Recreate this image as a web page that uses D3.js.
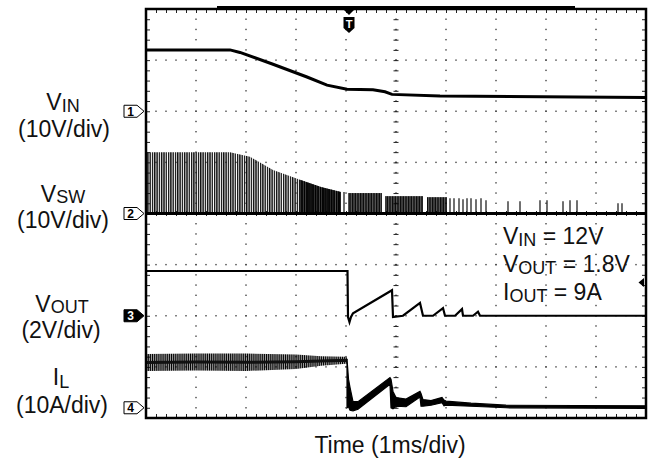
<!DOCTYPE html>
<html><head><meta charset="utf-8">
<script src="https://cdn.jsdelivr.net/npm/d3@7"></script>
<style>
body{margin:0;background:#fff}
svg{display:block}
text{font-family:"Liberation Sans",Arial,Helvetica,sans-serif;fill:#111}
</style>
</head><body>
<svg id="c" width="650" height="464"></svg>
<script>
// ---------------- DATA (read from the scope shot; time in ms, 1 ms/div) ----------------
// Channel 1: VIN (volts)
const vinTime  = [0, 1.68, 1.88, 2.54, 3.22, 3.62, 4.02, 4.54, 4.78, 4.92, 5.88, 10];
const vinVolts = [12, 12, 11.5, 9.2, 6.7, 5.1, 4.3, 4.2, 3.8, 3.3, 3.0, 2.7];

// Channel 2: VSW switching envelope (volts)
const vswEnvTime = [0, 1.68, 2.08, 2.54, 3.08, 3.5, 3.9];
const vswEnvTop  = [12, 12, 11.1, 8.5, 6.6, 5.2, 4.2];
const vswBurstStart = [4.04, 4.78, 5.62];
const vswBurstEnd   = [4.72, 5.54, 6.02];
const vswBurstTop   = [4.0, 3.4, 3.2];
const vswSpikeTime = [3.96, 6.08, 6.16, 6.26, 6.34, 6.42, 6.5, 6.6, 6.7, 6.8, 7.24, 7.48, 7.88, 8.02, 8.34, 8.48, 8.62, 9.44, 9.52];
const vswSpikeTop  = [4.2, 3.0, 3.0, 3.0, 2.8, 3.0, 3.0, 2.8, 3.0, 2.6, 2.4, 2.4, 2.6, 2.6, 2.4, 2.6, 2.6, 2.0, 2.0];

// Channel 3: VOUT (volts)
const voutTime  = [0, 4.03, 4.04, 4.07, 4.1, 4.14, 4.92, 4.94, 5.14, 5.48, 5.54, 5.74, 5.94, 5.98, 6.18, 6.32, 6.34, 6.54, 6.64, 6.68, 10];
const voutVolts = [1.75, 1.75, -0.05, -0.25, -0.05, 0.1, 1.0, -0.05, 0.0, 0.5, 0.0, 0.0, 0.3, 0.0, 0.0, 0.26, 0.0, 0.0, 0.16, 0.0, 0.0];

// Channel 4: IL (amps) — ripple band before fault, then hiccup current
const ilPreTime = [0, 1.0, 2.0, 3.0, 3.5, 4.0, 4.02];
const ilPreHi   = [10.5, 10.6, 10.6, 10.4, 10.1, 10.0, 9.8];
const ilPreLo   = [7.2, 7.3, 7.2, 7.6, 8.2, 8.6, 8.6];
const ilPostTime = [4.02, 4.05, 4.08, 4.14, 4.24, 4.88, 4.9, 4.94, 5.0, 5.2, 5.48, 5.5, 5.54, 5.7, 5.92, 5.96, 6.0, 6.5, 7.2, 10];
const ilPostHi   = [9.6, 5.6, 4.0, 1.2, 1.2, 5.9, 5.6, 3.2, 2.0, 1.7, 3.2, 2.8, 1.6, 1.4, 2.0, 1.5, 1.3, 0.9, 0.5, 0.4];
const ilPostLo   = [0.0, 0.2, -0.5, -0.6, -0.3, 4.6, 0.0, -0.2, 0.3, 0.2, 2.1, 0.3, 0.3, 0.5, 1.0, 0.4, 0.5, 0.3, 0.0, -0.1];

// Channel settings
const chGroundDiv = [2, 0, -2, -3.8];
const chPerDiv    = [10, 10, 2, 10];
const chMarkerLabels = ["1", "2", "3", "4"];
const trigTime = 4.06;

// ---------------- LAYOUT ----------------
const svg = d3.select("#c");
const L = 146, R = 646, T = 9, B = 418;
const x = d3.scaleLinear().domain([0, 10]).range([L, R]);
const y = d3.scaleLinear().domain([-4, 4]).range([B, T]);
const yc = (ch, v) => y(chGroundDiv[ch] + v / chPerDiv[ch]);

svg.append("rect").attr("width", 650).attr("height", 464).attr("fill", "#fff");

const defs = svg.append("defs");
function stripes(id, w, lw, col) {
  const p = defs.append("pattern").attr("id", id).attr("patternUnits", "userSpaceOnUse")
    .attr("width", w).attr("height", 10);
  p.append("rect").attr("width", lw).attr("height", 10).attr("fill", col);
}
stripes("light", 2.3, 1.4, "#111");
stripes("dark", 1.6, 1.3, "#000");
stripes("ripple", 1.9, 1.3, "#000");

// ---------------- GRID ----------------
const grid = svg.append("g");
const minorX = d3.range(0, 50.001, 1).map(i => i * 0.2);
const minorY = d3.range(0, 40.001, 1).map(i => -4 + i * 0.2);
[1,2,3,4,6,7,8,9].forEach(t => {
  minorY.forEach(v => grid.append("rect").attr("x", x(t) - 0.7).attr("y", y(v) - 0.7)
    .attr("width", 1.4).attr("height", 1.4).attr("fill", "#444"));
});
[-3,-2,-1,1,2,3].forEach(v => {
  minorX.forEach(t => grid.append("rect").attr("x", x(t) - 0.7).attr("y", y(v) - 0.7)
    .attr("width", 1.4).attr("height", 1.4).attr("fill", "#444"));
});
function cleanAxis(g) { g.select(".domain").remove(); g.selectAll("line").attr("stroke", "#222").attr("stroke-width", 1); }
const ticksX = minorX.slice(1, -1), ticksY = minorY.slice(1, -1);
svg.append("g").attr("transform", `translate(0,${y(0)})`).call(d3.axisTop(x).tickValues(ticksX).tickSize(2.5).tickFormat("")).call(cleanAxis);
svg.append("g").attr("transform", `translate(0,${y(0)})`).call(d3.axisBottom(x).tickValues(ticksX).tickSize(2.5).tickFormat("")).call(cleanAxis);
svg.append("g").attr("transform", `translate(${x(5)},0)`).call(d3.axisLeft(y).tickValues(ticksY).tickSize(2.5).tickFormat("")).call(cleanAxis);
svg.append("g").attr("transform", `translate(${x(5)},0)`).call(d3.axisRight(y).tickValues(ticksY).tickSize(2.5).tickFormat("")).call(cleanAxis);
minorX.forEach(t => grid.append("rect").attr("x", x(t) - 0.7).attr("y", y(0) - 0.7).attr("width", 1.4).attr("height", 1.4).attr("fill", "#333"));
minorY.forEach(v => grid.append("rect").attr("x", x(5) - 0.7).attr("y", y(v) - 0.7).attr("width", 1.4).attr("height", 1.4).attr("fill", "#333"));
svg.append("g").attr("transform", `translate(0,${T})`).call(d3.axisBottom(x).tickValues(ticksX).tickSize(4).tickFormat("")).call(cleanAxis);
svg.append("g").attr("transform", `translate(0,${B})`).call(d3.axisTop(x).tickValues(ticksX).tickSize(4).tickFormat("")).call(cleanAxis);
svg.append("g").attr("transform", `translate(${L},0)`).call(d3.axisRight(y).tickValues(ticksY).tickSize(4).tickFormat("")).call(cleanAxis);
svg.append("g").attr("transform", `translate(${R},0)`).call(d3.axisLeft(y).tickValues(ticksY).tickSize(4).tickFormat("")).call(cleanAxis);

// ---------------- TRACES ----------------
const tr = svg.append("g");
// CH2 VSW
const envPts = vswEnvTime.map((t, i) => [t, vswEnvTop[i]]);
const vswArea = d3.area().x(d => x(d[0])).y0(yc(1, 0)).y1(d => yc(1, d[1]));
tr.append("path").attr("d", vswArea(envPts)).attr("fill", "url(#light)");
tr.append("path").attr("d", vswArea(envPts.filter(d => d[0] >= 3.08))).attr("fill", "url(#dark)");
vswBurstStart.forEach((s, i) => {
  tr.append("rect").attr("x", x(s)).attr("width", x(vswBurstEnd[i]) - x(s))
    .attr("y", yc(1, vswBurstTop[i])).attr("height", yc(1, 0) - yc(1, vswBurstTop[i]))
    .attr("fill", "url(#dark)");
});
vswSpikeTime.forEach((t, i) => {
  tr.append("line").attr("x1", x(t)).attr("x2", x(t)).attr("y1", yc(1, 0))
    .attr("y2", yc(1, vswSpikeTop[i])).attr("stroke", "#222").attr("stroke-width", 1.3);
});
tr.append("line").attr("x1", x(0)).attr("x2", x(10)).attr("y1", yc(1, 0)).attr("y2", yc(1, 0))
  .attr("stroke", "#000").attr("stroke-width", 3);

// CH1 VIN
const lineGen = ch => d3.line().x(d => x(d[0])).y(d => yc(ch, d[1]));
tr.append("path").attr("d", lineGen(0)(vinTime.map((t, i) => [t, vinVolts[i]])))
  .attr("fill", "none").attr("stroke", "#000").attr("stroke-width", 3);

// CH3 VOUT
tr.append("path").attr("d", lineGen(2)(voutTime.map((t, i) => [t, voutVolts[i]])))
  .attr("fill", "none").attr("stroke", "#000").attr("stroke-width", 2.2);

// CH4 IL
const ilArea = d3.area().x(d => x(d[0])).y0(d => yc(3, d[2])).y1(d => yc(3, d[1]));
const ilPre = ilPreTime.map((t, i) => [t, ilPreHi[i], ilPreLo[i]]);
tr.append("path").attr("d", ilArea(ilPre)).attr("fill", "url(#ripple)");
const ilMid = d3.line().x(d => x(d[0])).y(d => yc(3, (d[1] + d[2]) / 2));
tr.append("path").attr("d", ilMid(ilPre)).attr("fill", "none").attr("stroke", "#111").attr("stroke-width", 3);
const ilPost = ilPostTime.map((t, i) => [t, ilPostHi[i], ilPostLo[i]]);
tr.append("path").attr("d", ilArea(ilPost)).attr("fill", "#000").attr("stroke", "#000").attr("stroke-width", 1.2);

// ---------------- FRAME & MARKERS ----------------
svg.append("rect").attr("x", L).attr("y", T).attr("width", R - L).attr("height", B - T)
  .attr("fill", "none").attr("stroke", "#000").attr("stroke-width", 2.5);
svg.append("line").attr("x1", 217).attr("x2", 575).attr("y1", 7).attr("y2", 7).attr("stroke", "#000").attr("stroke-width", 2);

const tx = x(trigTime);
svg.append("path").attr("d", `M${tx-6},${T} L${tx+6},${T} L${tx},${T+6} Z`).attr("fill", "#000");
svg.append("path").attr("d", `M${tx-5.5},${T+8} h11 v11 l-5.5,5 l-5.5,-5 Z`).attr("fill", "#000");
svg.append("text").attr("x", tx).attr("y", T+19).attr("text-anchor", "middle")
  .attr("font-size", 11).attr("font-weight", "bold").style("fill", "#fff").text("T");

chGroundDiv.forEach((g, i) => {
  const yy = y(g);
  const filled = i === 2;
  svg.append("path").attr("d", `M124,${yy-6} h13 l7,6 l-7,6 h-13 Z`)
    .attr("fill", filled ? "#000" : "#fff").attr("stroke", "#000").attr("stroke-width", 1);
  svg.append("text").attr("x", 130.5).attr("y", yy + 4.5).attr("text-anchor", "middle")
    .attr("font-size", 12).attr("font-weight", "bold").style("fill", filled ? "#fff" : "#000")
    .text(chMarkerLabels[i]);
});
svg.append("path").attr("d", "M644,278 L638.5,282.5 L644,287 Z").attr("fill", "#000");

// ---------------- TEXT ----------------
function label(xp, yp, main, sub, subDy, size, subSize, anchor) {
  const t = svg.append("text").attr("x", xp).attr("y", yp).attr("text-anchor", anchor || "middle")
    .attr("font-size", size);
  t.append("tspan").text(main);
  if (sub) {
    t.append("tspan").attr("font-size", subSize).attr("dy", subDy).text(sub[0]);
    if (sub[1]) t.append("tspan").attr("font-size", size).attr("dy", -subDy).text(sub[1]);
  }
  return t;
}
label(63, 110, "V", ["IN"], 2, 23, 18);
label(64, 137, "(10V/div)", null, 0, 23);
label(63, 202, "V", ["SW"], 1, 23, 18);
label(63, 228, "(10V/div)", null, 0, 23);
label(62, 312, "V", ["OUT"], 1, 23, 18);
label(61, 338, "(2V/div)", null, 0, 23);
label(61, 385, "I", ["L"], 3, 23, 18);
label(62, 413, "(10A/div)", null, 0, 23);
label(390, 453, "Time (1ms/div)", null, 0, 23);

label(503, 244, "V", ["IN", " = 12V"], 2, 23, 18, "start");
label(503, 272, "V", ["OUT", " = 1.8V"], 2, 23, 18, "start");
label(503, 300, "I", ["OUT", " = 9A"], 2, 23, 18, "start");
</script>
</body></html>
